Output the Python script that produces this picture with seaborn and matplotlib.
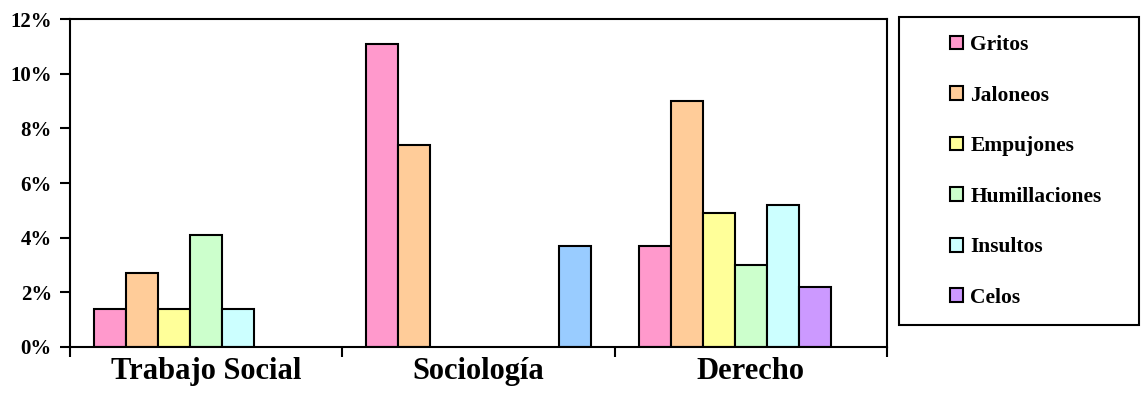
import matplotlib
matplotlib.use("Agg")
import matplotlib.pyplot as plt
from matplotlib.patches import Rectangle
import numpy as np
import pandas as pd
import seaborn as sns

# Porcentaje de violencia en el noviazgo por carrera
carreras = ['Trabajo Social', 'Sociología', 'Derecho']
tipos = ['Gritos', 'Jaloneos', 'Empujones', 'Humillaciones', 'Insultos', 'Celos', 'Otros']
gritos = [1.4, 11.1, 3.7]
jaloneos = [2.7, 7.4, 9.0]
empujones = [1.4, np.nan, 4.9]
humillaciones = [4.1, np.nan, 3.0]
insultos = [1.4, np.nan, 5.2]
celos = [np.nan, np.nan, 2.2]
otros = [np.nan, 3.7, np.nan]
colores = ['#FF99CC', '#FFCC99', '#FFFF99', '#CCFFCC', '#CCFFFF', '#CC99FF', '#99CCFF']
y_ticks = [0, 2, 4, 6, 8, 10, 12]

series = [gritos, jaloneos, empujones, humillaciones, insultos, celos, otros]
rows = []
for tipo, vals in zip(tipos, series):
    for carrera, v in zip(carreras, vals):
        rows.append({'carrera': carrera, 'tipo': tipo, 'pct': v})
df = pd.DataFrame(rows).dropna()

sns.set_style("white")
plt.rcParams['font.family'] = ['Liberation Serif', 'DejaVu Serif']
plt.rcParams['font.weight'] = 'bold'
plt.rcParams['text.color'] = 'black'
plt.rcParams['xtick.color'] = 'black'
plt.rcParams['ytick.color'] = 'black'

fig = plt.figure(figsize=(11.41, 4.11), dpi=100)
ax = fig.add_axes([70 / 1141, 1 - 347 / 411, 817 / 1141, 328 / 411])

sns.barplot(data=df, x='carrera', y='pct', hue='tipo', order=carreras, hue_order=tipos,
            palette=colores, saturation=1, width=7 / 8.5, edgecolor='black', linewidth=1.5,
            errorbar=None, legend=False, ax=ax)

ax.set_xlim(-0.5, 2.5)
ax.set_ylim(0, 12)
ax.set_yticks(y_ticks)
ax.set_yticklabels([f'{t}%' for t in y_ticks], fontsize=15, fontweight='bold', color='black')
ax.set_xticks([-0.5, 0.5, 1.5, 2.5])
ax.set_xticklabels([])
ax.set_xticks([0, 1, 2], minor=True)
ax.set_xticklabels(carreras, minor=True, fontsize=22, fontweight='bold', color='black')
ax.tick_params(axis='both', which='major', direction='out', length=7, width=1.5,
               color='black', left=True, bottom=True)
ax.tick_params(axis='y', pad=6)
ax.tick_params(axis='x', which='minor', length=0, pad=7)
ax.set_xlabel('')
ax.set_ylabel('')
for sp in ax.spines.values():
    sp.set_visible(True)
    sp.set_color('black')
    sp.set_linewidth(1.5)

handles = [Rectangle((0, 0), 1, 1, facecolor=c, edgecolor='black', linewidth=1.5)
           for c in colores[:6]]
leg = fig.legend(handles, tipos[:6], loc='upper left', bbox_to_anchor=(950 / 1141, 1 - 35 / 411),
                 frameon=False, prop={'family': 'Liberation Serif', 'weight': 'bold', 'size': 15.5},
                 handlelength=0.6, handleheight=0.6, handletextpad=0.35, labelspacing=1.42,
                 borderpad=0, borderaxespad=0)
for t in leg.get_texts():
    t.set_color('black')
fig.patches.append(Rectangle((899 / 1141, 1 - 325 / 411), 240 / 1141, 308 / 411,
                             transform=fig.transFigure, fill=False, edgecolor='black',
                             linewidth=1.5))

fig.savefig('out.png', dpi=100)
